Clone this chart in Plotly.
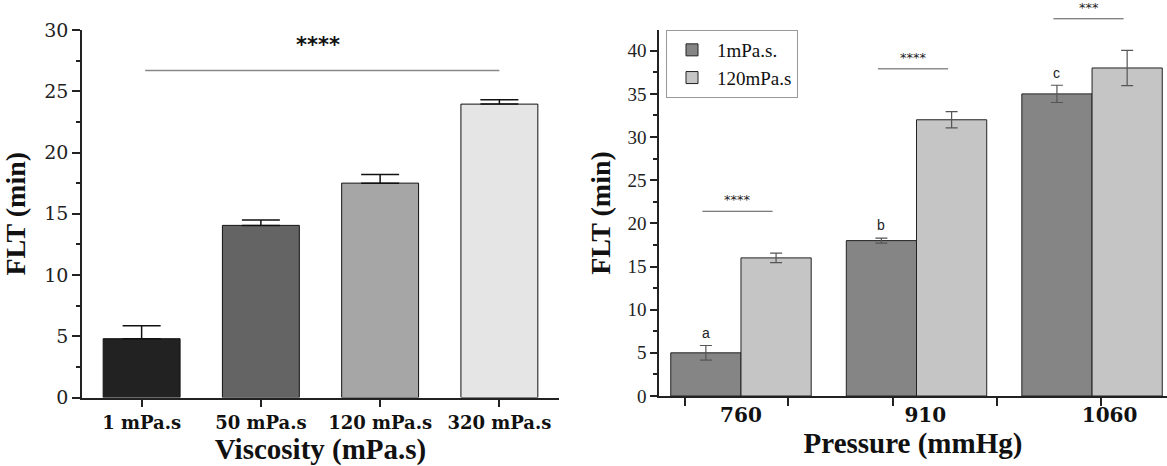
import plotly.graph_objects as go

# ---------------- data ----------------
viscosity_labels = ["1 mPa.s", "50 mPa.s", "120 mPa.s", "320 mPa.s"]
flt_viscosity = [4.8, 14.05, 17.5, 23.95]
flt_viscosity_err = [1.05, 0.45, 0.7, 0.35]
viscosity_colors = ["#222222", "#646464", "#a6a6a6", "#e5e5e5"]

pressure_labels = ["760", "910", "1060"]
pressure_pos = [0, 1, 2]
flt_1mpas = [5.0, 18.0, 35.0]
flt_1mpas_err = [0.85, 0.3, 1.0]
flt_120mpas = [16.0, 32.0, 38.0]
flt_120mpas_err = [0.55, 0.95, 2.05]
letters = ["a", "b", "c"]
group_sig = ["****", "****", "***"]
group_sig_level = [21.4, 37.9, 43.7]

# ---------------- layout geometry ----------------
W, H = 1167, 466
xdom1 = [82 / W, 559 / W]
ydom1 = [(H - 397.5) / H, (H - 30) / H]
xdom2 = [659 / W, 1.0]
ydom2 = [(H - 396) / H, (H - 30) / H]
y1_range = [0, 30]
y2_range = [0, 42.4]
x2_range = [-0.467, 2.427]

fig = go.Figure()

fig.add_trace(go.Bar(
    x=viscosity_labels, y=flt_viscosity, width=0.645,
    marker=dict(color=viscosity_colors, line=dict(color="#111111", width=1)),
    error_y=dict(type="data", array=flt_viscosity_err, arrayminus=[0] * 4,
                 symmetric=False, color="#111111", thickness=1.5, width=19),
    xaxis="x", yaxis="y", showlegend=False))

fig.add_trace(go.Bar(
    x=pressure_pos, y=flt_1mpas, name="1mPa.s.", offsetgroup="a",
    marker=dict(color="#858585", line=dict(color="#222222", width=1)),
    error_y=dict(type="data", array=flt_1mpas_err, color="#555555",
                 thickness=1.2, width=6),
    xaxis="x2", yaxis="y2"))
fig.add_trace(go.Bar(
    x=pressure_pos, y=flt_120mpas, name="120mPa.s", offsetgroup="b",
    marker=dict(color="#c5c5c5", line=dict(color="#222222", width=1)),
    error_y=dict(type="data", array=flt_120mpas_err, color="#555555",
                 thickness=1.2, width=6),
    xaxis="x2", yaxis="y2"))

serif = "Liberation Serif"
axis_common = dict(showgrid=False, zeroline=False, showline=True,
                   linecolor="#222222", linewidth=1.5,
                   tickcolor="#222222", tickwidth=1.5, automargin=False)

fig.update_layout(
    width=W, height=H, plot_bgcolor="white", paper_bgcolor="white",
    margin=dict(l=0, r=0, t=0, b=0),
    barmode="group", bargap=0.2, bargroupgap=0,
    xaxis=dict(domain=xdom1, anchor="y", type="category", range=[-0.5, 3.5],
               ticks="outside", ticklen=8,
               tickfont=dict(family="DejaVu Serif", size=18, color="#111", weight="bold"),
               title=dict(text="Viscosity (mPa.s)", standoff=3,
                          font=dict(family=serif, size=29, color="#111", weight="bold")),
               **axis_common),
    yaxis=dict(domain=ydom1, anchor="x", range=y1_range, dtick=5,
               ticks="outside", ticklen=8,
               minor=dict(ticks="outside", dtick=2.5, ticklen=4, tickcolor="#222222", tickwidth=1.5),
               tickfont=dict(family="DejaVu Serif", size=19, color="#222"),
               title=dict(text="FLT (min)", standoff=10,
                          font=dict(family=serif, size=28, color="#111", weight="bold")),
               **axis_common),
    xaxis2=dict(domain=xdom2, anchor="y2", range=x2_range,
                tickvals=[0, 1.05, 2.1], ticktext=pressure_labels, ticks="",
                minor=dict(ticks="outside", tickvals=[-0.32, 0.27, 0.866, 1.46, 2.05],
                           ticklen=8, tickcolor="#222222", tickwidth=1.5),
                tickfont=dict(family="DejaVu Serif", size=20, color="#111", weight="bold"),
                title=dict(text="Pressure (mmHg)", standoff=3,
                           font=dict(family=serif, size=29, color="#111", weight="bold")),
                **axis_common),
    yaxis2=dict(domain=ydom2, anchor="x2", range=y2_range, dtick=5,
                ticks="outside", ticklen=7,
                minor=dict(ticks="outside", dtick=2.5, ticklen=4, tickcolor="#222222", tickwidth=1.5),
                tickfont=dict(family=serif, size=19, color="#222"),
                title=dict(text="FLT (min)", standoff=9,
                           font=dict(family=serif, size=28, color="#111", weight="bold")),
                **axis_common),
    legend=dict(x=666 / W, y=ydom2[1], xanchor="left", yanchor="top",
                bordercolor="#999999", borderwidth=1, bgcolor="white",
                font=dict(family=serif, size=19, color="#111"),
                tracegroupgap=0, itemwidth=40),
)

# significance bar on left panel
fig.add_shape(type="line", xref="x", yref="y", x0=0.03, x1=3.0, y0=26.7, y1=26.7,
              line=dict(color="#888888", width=1.5))
fig.add_annotation(x=1.48, y=27.6, xref="x", yref="y", text="****", showarrow=False,
                   yanchor="bottom", font=dict(family="DejaVu Sans", size=21, color="#111", weight="bold"))

# right panel: letters and significance bars
def to_paper_y(v):
    return ydom2[0] + (v - y2_range[0]) / (y2_range[1] - y2_range[0]) * (ydom2[1] - ydom2[0])

for p, v, e, lt in zip(pressure_pos, flt_1mpas, flt_1mpas_err, letters):
    fig.add_annotation(x=p - 0.2, y=v + e + 0.3, xref="x2", yref="y2", text=lt,
                       showarrow=False, yanchor="bottom",
                       font=dict(family="Liberation Sans", size=14, color="#222"))

for p, s, lvl in zip(pressure_pos, group_sig, group_sig_level):
    yp = to_paper_y(lvl)
    fig.add_shape(type="line", xref="x2", yref="paper", x0=p - 0.22, x1=p + 0.18,
                  y0=yp, y1=yp, line=dict(color="#555555", width=1))
    fig.add_annotation(x=p - 0.02, y=yp + 0.004, xref="x2", yref="paper", text=s,
                       showarrow=False, yanchor="bottom",
                       font=dict(family="DejaVu Sans", size=13, color="#222"))

fig.write_html("out.html", config={"displayModeBar": False},
               post_script="document.body.style.margin='0';")
